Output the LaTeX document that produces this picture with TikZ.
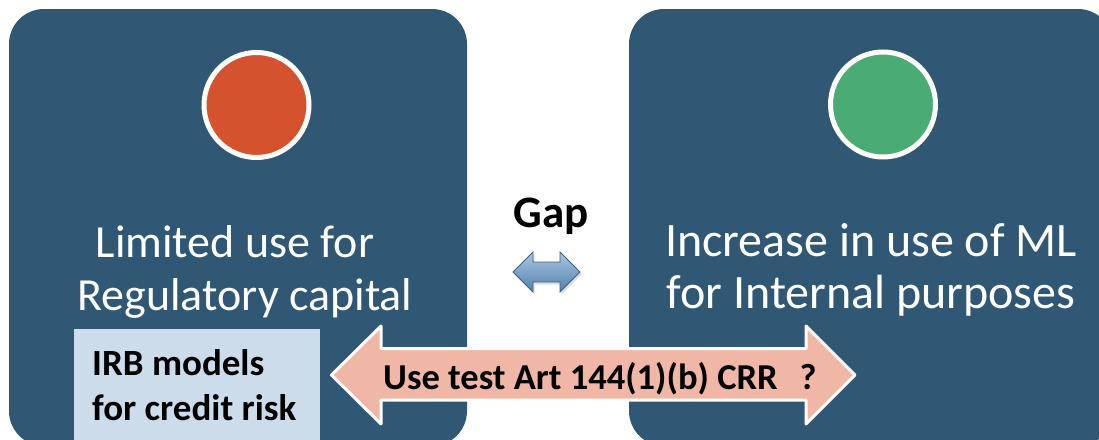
\documentclass[tikz,border=0pt]{standalone}
\usepackage{fontspec}
\setmainfont{Carlito}
\usetikzlibrary{shadows}
\definecolor{panelblue}{RGB}{48,87,115}
\definecolor{redlight}{RGB}{212,82,46}
\definecolor{greenlight}{RGB}{74,171,116}
\definecolor{salmon}{RGB}{240,183,166}
\definecolor{irbblue}{RGB}{204,220,234}
\definecolor{gaptop}{RGB}{170,198,226}
\definecolor{gapbottom}{RGB}{82,128,172}
\definecolor{gapedge}{RGB}{60,98,136}
\begin{document}
\begin{tikzpicture}[x=1pt,y=-1pt,
  panel/.style={fill=panelblue,rounded corners=35pt},
  lamp/.style={circle,draw=white,line width=5pt,minimum size=105pt,inner sep=0pt},
  paneltext/.style={text=white,align=center,inner sep=0pt},
  boldtext/.style={text=black,font=\bfseries\fontsize{#1}{#1}\selectfont,inner sep=0pt},
  bigarrow/.style={fill=salmon,draw=white,line width=3pt,line join=round},
  smallarrow/.style={top color=gaptop,bottom color=gapbottom,draw=gapedge,line width=0.8pt,
    drop shadow={shadow xshift=1.5pt,shadow yshift=-2.5pt,opacity=0.25}}]
\useasboundingbox (0,0) rectangle (1099,439);
\clip (0,0) rectangle (1099,439);

% two panels
\path[panel] (9,9) rectangle (467,446);
\path[panel] (629,9) rectangle (1113,446);

% status lights
\node[lamp,fill=redlight] (redlamp) at (256.5,105) {};
\node[lamp,fill=greenlight] (greenlamp) at (883,104.5) {};

% panel captions (base anchor sits on the last line)
\node[paneltext,anchor=base,font=\fontsize{46}{53}\selectfont] (leftcap) at (245,310)
  {Limited use for\kern20pt\\Regulatory capital};
\node[paneltext,anchor=base,font=\fontsize{48}{52}\selectfont] (rightcap) at (871,308)
  {Increase in use of ML\\for Internal purposes};

% gap label and small double arrow
\node[boldtext=45,anchor=base] (gap) at (551,227) {Gap};
\path[smallarrow] (513,272) -- (533,252) -- (533,262) -- (560,262) -- (560,252)
  -- (580,272) -- (560,292) -- (560,282) -- (533,282) -- (533,292) -- cycle;

% IRB box
\node[fill=irbblue,minimum width=246pt,minimum height=121pt,inner sep=0pt,anchor=north west]
  (irbbox) at (74,329) {};
\node[boldtext=37,align=left,anchor=base west,font=\bfseries\fontsize{37}{45}\selectfont]
  (irbtext) at (92,420) {IRB models\\for credit risk};

% use test double arrow
\path[bigarrow] (331.5,375) -- (381,326) -- (381,348.5) -- (806,348.5) -- (806,326)
  -- (855,375) -- (806,424) -- (806,400) -- (381,400) -- (381,424) -- cycle;
\node[boldtext=36.5,anchor=base west] (usetest) at (383,389.5)
  {Use test Art 144(1)(b) CRR\hspace{22pt}?};
\end{tikzpicture}
\end{document}
